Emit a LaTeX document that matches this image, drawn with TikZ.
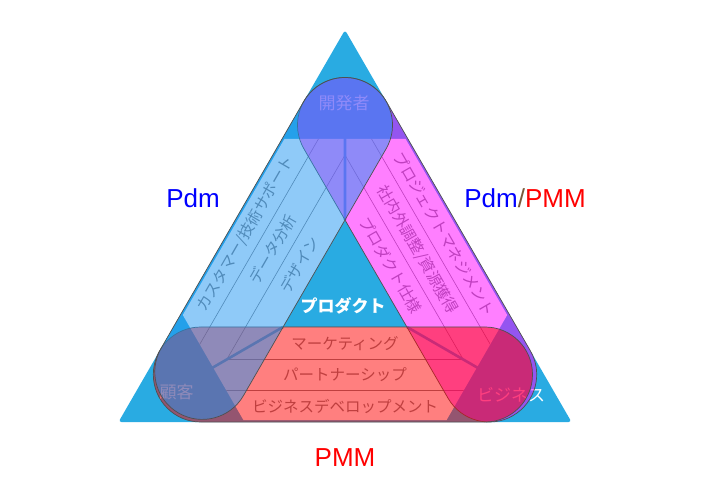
\documentclass[tikz,border=0pt]{standalone}
\usepackage{fontspec}
\setmainfont{Liberation Sans}
\newfontfamily\jpfont{Noto Sans CJK JP}
\usetikzlibrary{calc}
\definecolor{tricyan}{RGB}{41,171,226}
\definecolor{capblue}{RGB}{33,150,243}
\definecolor{capmagenta}{RGB}{255,0,255}
\definecolor{capred}{RGB}{255,0,0}
\definecolor{rowgray}{RGB}{128,128,128}
\definecolor{edgegray}{RGB}{80,80,80}
\definecolor{slashbrown}{RGB}{120,90,60}

\begin{document}
\begin{tikzpicture}[x=1pt,y=1pt,
  rowtext/.style={font=\jpfont\fontsize{15.5}{16}\selectfont,text=rowgray,inner sep=0pt},
  cornertext/.style={font=\jpfont\fontsize{17}{18}\selectfont,text=white,inner sep=0pt},
  sidelabel/.style={font=\fontsize{26}{30}\selectfont,inner sep=0pt},
  capsule/.style={draw=edgegray,line width=0.7pt,fill opacity=0.5}]

\fill[white] (0,0) rectangle (720,501);

% big triangle, product triangle
\coordinate (top) at (345,471);
\coordinate (left) at (118.5,79);
\coordinate (right) at (571.5,79);
\coordinate (ptop) at (345,281);
\coordinate (pleft) at (283,174);
\coordinate (pright) at (407,174);
% ends of the capsules
\coordinate (ctop) at (345,376);
\coordinate (cleft) at (200.8,126.5);
\coordinate (cright) at (489.2,126.5);
% strips (corners cut off)
\coordinate (h1) at (284.4,362);
\coordinate (h2) at (405.6,362);
\coordinate (h3) at (507.2,186);
\coordinate (h4) at (446.6,81);
\coordinate (h5) at (243.4,81);
\coordinate (h6) at (182.8,186);

\fill[tricyan,rounded corners=3pt] (top) -- (left) -- (right) -- cycle;
\fill[white] (h1) -- (h2) -- (h3) -- (h4) -- (h5) -- (h6) -- cycle;
\fill[tricyan] (ptop) -- (pleft) -- (pright) -- cycle;

% row lines
\begin{scope}
\clip (h1) -- (h2) -- (h3) -- (h4) -- (h5) -- (h6) -- cycle;
\foreach \d in {31.5,62.5}
  \draw[rowgray,line width=0.6pt] (345,471-2*\d) -- (118.5+1.732*\d,79+\d) -- (571.5-1.732*\d,79+\d) -- cycle;
\end{scope}
\draw[tricyan,line width=2.6pt] (ptop) -- ($(ptop)!0.8!(top)$) (pleft) -- ($(pleft)!0.8!(left)$) (pright) -- ($(pright)!0.8!(right)$);

% texts of the strips
\node[rowtext,rotate=60] (support) at (245.6,267.2) {カスタマー/技術サポート};
\node[rowtext,rotate=60] (analysis) at (272.5,251.7) {データ分析};
\node[rowtext,rotate=60] (design) at (299.3,236.2) {デザイン};
\node[rowtext,rotate=-60] (projmgmt) at (444.4,266.8) {プロジェクトマネジメント};
\node[rowtext,rotate=-60] (coord) at (417.5,251.3) {社内外調整/資源獲得};
\node[rowtext,rotate=-60] (spec) at (390.7,235.8) {プロダクト仕様};
\node[rowtext] (marketing) at (345,157) {マーケティング};
\node[rowtext] (partner) at (345,126) {パートナーシップ};
\node[rowtext] (bizdev) at (345,95) {ビジネスデベロップメント};

\node[cornertext] (dev) at (344,398) {開発者};
\node[cornertext] (customer) at (176.5,109) {顧客};
\node[cornertext] (business) at (511,106) {ビジネス};
\node[cornertext,font=\jpfont\bfseries\fontsize{17}{18}\selectfont] (product) at (343,195) {プロダクト};

% capsules
\path[capsule,fill=capmagenta] ($(ctop)+(30:47.5)$) -- ($(cright)+(30:47.5)$)
  arc[start angle=30,end angle=-150,radius=47.5] -- ($(ctop)+(-150:47.5)$)
  arc[start angle=-150,end angle=-330,radius=47.5] -- cycle;
\path[capsule,fill=capred] ($(cleft)+(90:47.5)$) -- (485,174)
  arc[start angle=90,end angle=-90,radius=47.5] -- ($(cleft)+(-90:47.5)$)
  arc[start angle=-90,end angle=-270,radius=47.5] -- cycle;
\path[capsule,fill=capblue] ($(ctop)+(-30:47.5)$) -- ($(202.3,129.1)+(-30:47.5)$)
  arc[start angle=-30,end angle=-210,radius=47.5] -- ($(ctop)+(150:47.5)$)
  arc[start angle=150,end angle=-30,radius=47.5] -- cycle;

% roles
\node[sidelabel,text=blue] (pdm) at (193,303) {Pdm};
\node[sidelabel] (pdmpmm) at (525,303) {\textcolor{blue}{Pdm}\textcolor{slashbrown}{/}\textcolor{red}{PMM}};
\node[sidelabel,text=red] (pmm) at (345,43) {PMM};
\end{tikzpicture}
\end{document}
